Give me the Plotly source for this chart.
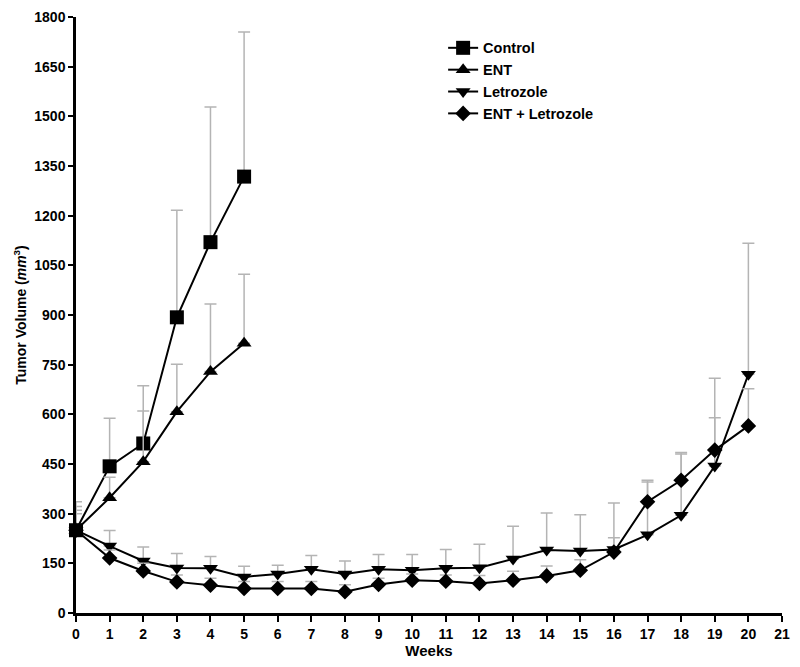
import plotly.graph_objects as go

# weeks for each group
weeks_short = [0, 1, 2, 3, 4, 5]
weeks_long = list(range(0, 21))

# mean tumor volume (mm3) and upper error (SEM)
control_mean = [250, 443, 512, 893, 1120, 1318]
control_err = [86, 145, 174, 323, 408, 437]

ent_mean = [250, 348, 457, 608, 729, 815]
ent_err = [72, 62, 153, 143, 204, 208]

letrozole_mean = [250, 202, 157, 136, 135, 109, 118, 132, 118, 132, 129,
                  135, 137, 163, 190, 187, 192, 236, 295, 444, 721]
letrozole_err = [60, 47, 42, 44, 36, 32, 26, 42, 39, 45, 48,
                 57, 71, 99, 112, 110, 140, 165, 185, 265, 396]

combo_mean = [250, 166, 127, 94, 84, 74, 74, 74, 64, 86, 99,
              96, 89, 99, 112, 129, 184, 336, 401, 492, 565]
combo_err = [50, 24, 23, 21, 21, 21, 21, 21, 21, 19, 19,
             19, 24, 27, 30, 32, 43, 60, 84, 98, 112]

x_ticks = list(range(0, 22))
y_ticks = list(range(0, 1801, 150))

FONT = "Liberation Sans, Arial, sans-serif"
ERR_COLOR = "#b4b4b4"

series = [
    ("Control", weeks_short, control_mean, control_err, "square", 14),
    ("ENT", weeks_short, ent_mean, ent_err, "triangle-up", 13),
    ("Letrozole", weeks_long, letrozole_mean, letrozole_err, "triangle-down", 13),
    ("ENT + Letrozole", weeks_long, combo_mean, combo_err, "diamond", 12),
]

fig = go.Figure()
for name, xs, ys, err, sym, size in series:
    fig.add_trace(go.Scatter(
        x=xs, y=ys, name=name, mode="lines+markers",
        line=dict(color="black", width=2),
        marker=dict(symbol=sym, size=size, color="black"),
        error_y=dict(type="data", symmetric=False, array=err,
                     arrayminus=[0] * len(err), color=ERR_COLOR,
                     thickness=1.5, width=6),
        cliponaxis=False,
    ))

# page body has an 8px margin, so the figure is sized to fit the window
fig.update_layout(
    width=784, height=651,
    plot_bgcolor="white", paper_bgcolor="white",
    margin=dict(l=68, r=10, t=9, b=46),
    font=dict(family=FONT, color="black", size=14, weight="bold"),
    legend=dict(x=0.52, y=0.975, xanchor="left", yanchor="top",
                font=dict(size=14.5, weight="bold"), tracegroupgap=0,
                bgcolor="rgba(0,0,0,0)"),
    xaxis=dict(
        range=[0, 21], tickvals=x_ticks, showgrid=False, zeroline=False,
        showline=True, linewidth=2.5, linecolor="black", automargin=False,
        ticks="outside", ticklen=6, tickwidth=2, tickcolor="black",
        tickfont=dict(size=14, weight="bold"),
        title=dict(text="Weeks", font=dict(size=15, weight="bold"), standoff=0),
    ),
    yaxis=dict(
        range=[0, 1800], tickvals=y_ticks, showgrid=False, zeroline=False,
        showline=True, linewidth=2.5, linecolor="black", automargin=False,
        ticks="outside", ticklen=5, tickwidth=2, tickcolor="black",
        tickfont=dict(size=14, weight="bold"),
        title=dict(text="Tumor Volume (<i>mm</i><sup>3</sup>)",
                   font=dict(size=14, weight="bold"), standoff=5),
    ),
)

fig.write_html("out.html")
